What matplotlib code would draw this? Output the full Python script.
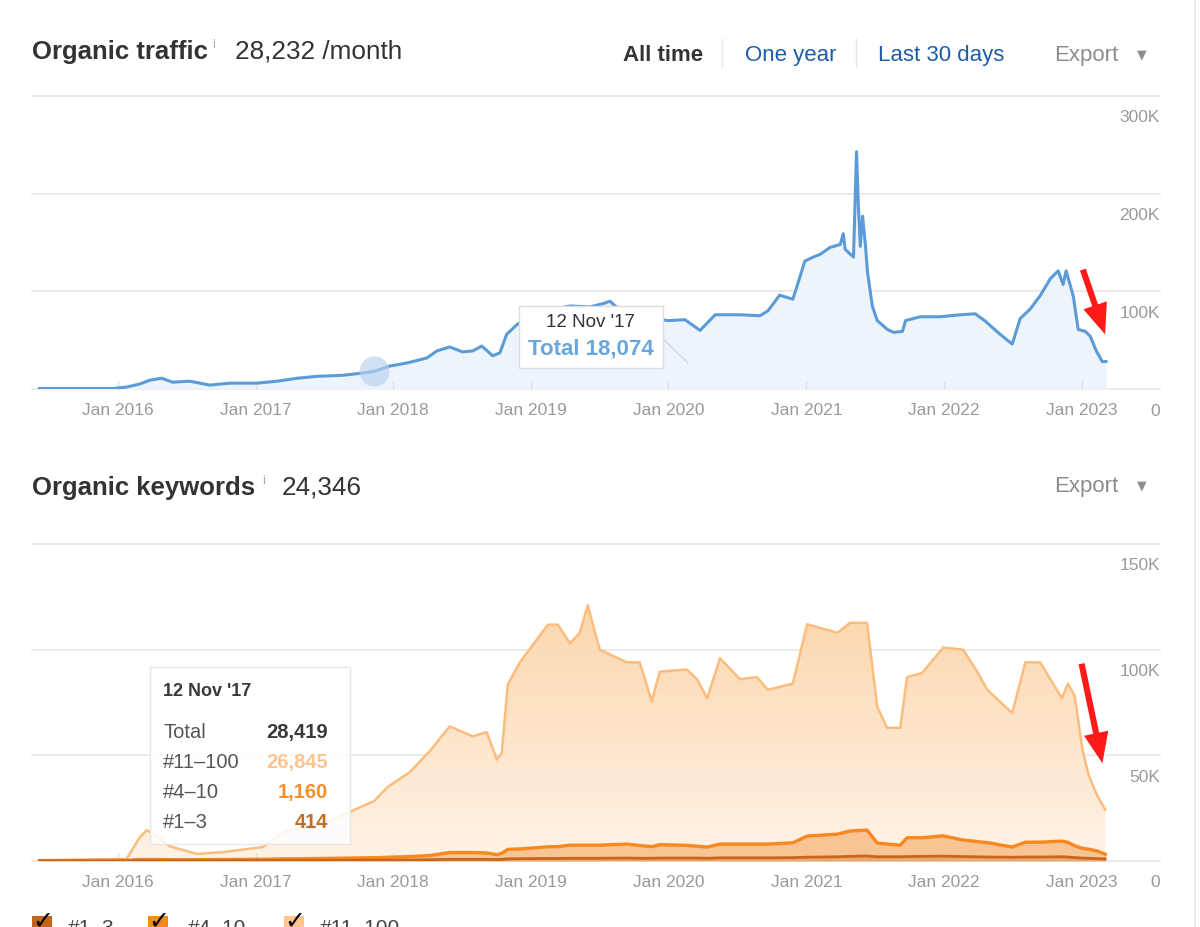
"""Ahrefs-style organic traffic / keywords overview, redrawn with matplotlib."""

import matplotlib

matplotlib.use("Agg")

import matplotlib.dates as mdates
import matplotlib.pyplot as plt
import numpy as np
import pandas as pd
from matplotlib.colors import LinearSegmentedColormap
from matplotlib.lines import Line2D
from matplotlib.patches import FancyArrowPatch, Rectangle

W, H = 1200, 928
plt.rcParams["font.family"] = ["Liberation Sans", "DejaVu Sans"]

# ---- data (values in thousands) -------------------------------------------
traffic_dates = [
    "2015-06-08", "2015-12-18", "2016-01-25", "2016-02-28", "2016-03-26", "2016-04-27",
    "2016-05-26", "2016-07-10", "2016-09-02", "2016-10-25", "2017-01-05", "2017-02-27",
    "2017-04-21", "2017-06-13", "2017-08-20", "2017-10-04", "2017-11-12", "2017-12-23",
    "2018-02-06", "2018-03-31", "2018-04-27", "2018-05-31", "2018-07-04", "2018-07-31",
    "2018-08-24", "2018-09-22", "2018-10-11", "2018-10-29", "2018-11-27", "2019-01-01",
    "2019-02-08", "2019-04-15", "2019-06-07", "2019-07-17", "2019-07-30", "2019-08-13",
    "2019-09-08", "2019-10-31", "2019-12-31", "2020-02-14", "2020-03-25", "2020-05-04",
    "2020-07-09", "2020-08-31", "2020-09-21", "2020-10-22", "2020-11-26", "2020-12-07",
    "2020-12-28", "2021-01-19", "2021-02-07", "2021-03-05", "2021-04-01", "2021-04-09",
    "2021-04-14", "2021-05-06", "2021-05-14", "2021-05-19", "2021-05-24", "2021-05-30",
    "2021-06-07", "2021-06-12", "2021-06-25", "2021-07-08", "2021-08-04", "2021-08-20",
    "2021-09-13", "2021-09-21", "2021-10-30", "2021-12-22", "2022-02-13", "2022-03-25",
    "2022-04-19", "2022-05-30", "2022-07-01", "2022-07-22", "2022-08-18", "2022-09-14",
    "2022-10-10", "2022-10-31", "2022-11-13", "2022-11-21", "2022-12-10", "2022-12-23",
    "2023-01-11", "2023-01-24", "2023-02-09", "2023-02-25", "2023-03-07",
]
traffic_k = [
    0.5, 0.5, 2, 5, 9, 11,
    7, 8, 4, 6, 6, 8,
    11, 13, 14, 16, 18.074, 23.5,
    26.6, 31.7, 39, 43, 38, 39,
    44, 34, 37, 56, 66.5, 74,
    80, 85, 84, 88, 90, 85,
    78, 74, 70, 71, 60, 76,
    76, 75, 80, 96, 92, 105,
    131, 135, 138, 145, 148, 159,
    143, 135, 243, 187, 146, 177,
    146, 120, 85, 70, 61, 58,
    59, 70, 74, 74, 76, 77,
    70, 56, 46, 72, 82, 96,
    113, 121, 107, 121, 95, 61,
    59, 54, 39, 28, 28.2,
]

kw_dates = [
    "2015-06-08", "2016-01-25", "2016-02-28", "2016-03-18", "2016-04-14", "2016-05-18",
    "2016-07-29", "2016-10-06", "2017-01-20", "2017-03-14", "2017-07-17", "2017-11-12",
    "2017-12-17", "2018-02-14", "2018-04-08", "2018-05-31", "2018-07-31", "2018-09-06",
    "2018-10-03", "2018-10-16", "2018-11-01", "2018-12-03", "2019-02-15", "2019-03-14",
    "2019-04-15", "2019-05-11", "2019-06-01", "2019-07-03", "2019-09-13", "2019-10-17",
    "2019-11-18", "2019-12-09", "2020-02-19", "2020-03-17", "2020-04-13", "2020-05-17",
    "2020-07-09", "2020-08-23", "2020-09-21", "2020-11-26", "2021-01-03", "2021-03-24",
    "2021-04-27", "2021-06-11", "2021-07-08", "2021-08-03", "2021-09-07", "2021-09-25",
    "2021-11-04", "2021-12-30", "2022-02-21", "2022-03-30", "2022-04-26", "2022-07-01",
    "2022-08-05", "2022-09-13", "2022-11-10", "2022-11-26", "2022-12-14", "2023-01-03",
    "2023-01-19", "2023-02-12", "2023-03-05",
]
kw_pos_1_3 = [
    0.05, 0.1, 0.2, 0.2, 0.2, 0.2,
    0.2, 0.2, 0.25, 0.3, 0.35, 0.414,
    0.45, 0.5, 0.6, 0.8, 0.8, 0.8,
    0.7, 0.8, 1.0, 1.1, 1.2, 1.2,
    1.3, 1.3, 1.3, 1.3, 1.4, 1.3,
    1.3, 1.4, 1.4, 1.4, 1.3, 1.5,
    1.5, 1.5, 1.5, 1.6, 1.8, 2.0,
    2.2, 2.4, 2.0, 2.0, 2.0, 2.1,
    2.2, 2.3, 2.1, 2.0, 1.9, 1.8,
    1.9, 1.9, 2.0, 1.9, 1.6, 1.4,
    1.3, 1.1, 1.0,
]
kw_pos_4_10 = [
    0.15, 0.2, 0.5, 0.5, 0.5, 0.4,
    0.4, 0.5, 0.6, 0.7, 0.9, 1.16,
    1.3, 1.6, 2.0, 3.2, 3.2, 3.0,
    2.3, 2.8, 4.5, 4.6, 5.5, 5.6,
    6.2, 6.2, 6.2, 6.2, 6.6, 6.0,
    5.5, 6.3, 6.0, 5.6, 5.3, 6.5,
    6.5, 6.5, 6.5, 7.0, 10.0, 10.7,
    12.0, 12.2, 6.5, 6.0, 5.5, 8.9,
    8.8, 9.6, 7.8, 7.2, 6.8, 4.8,
    7.0, 7.0, 7.4, 6.9, 5.6, 4.6,
    4.3, 3.6, 2.2,
]
kw_pos_11_100 = [
    0.1, 0.7, 10.3, 13.9, 11.1, 6.4,
    2.7, 3.5, 5.75, 12.7, 17.75, 26.845,
    33.25, 39.9, 49.4, 59.7, 55.0, 57.2,
    45.0, 47.4, 78.0, 88.3, 105.1, 105.0,
    95.5, 100.5, 113.5, 92.5, 86.0, 86.7,
    68.7, 81.9, 83.2, 79.0, 70.4, 88.0,
    78.0, 79.0, 73.0, 75.4, 100.2, 95.3,
    98.5, 98.1, 64.5, 55.0, 55.5, 76.0,
    78.0, 89.1, 90.1, 80.4, 72.3, 63.4,
    85.1, 85.1, 67.6, 75.2, 70.8, 47.0,
    35.4, 26.0, 21.1,
]

year_ticks = ["2016-01-01", "2017-01-01", "2018-01-01", "2019-01-01",
              "2020-01-01", "2021-01-01", "2022-01-01", "2023-01-01"]
year_labels = ["Jan 2016", "Jan 2017", "Jan 2018", "Jan 2019",
               "Jan 2020", "Jan 2021", "Jan 2022", "Jan 2023"]
traffic_yticks = [0, 100, 200, 300]
kw_yticks = [0, 50, 100, 150]

hover_date = "2017-11-12"
hover_traffic = 18.074
hover_rows = [("Total", "28,419", "#3a3a3a"), ("#11–100", "26,845", "#fcc48e"),
              ("#4–10", "1,160", "#f48f2c"), ("#1–3", "414", "#c26d25")]

GRID = "#e8e8e8"
LABEL = "#9a9a9a"
DARK = "#333333"


def px(x, y):
    """Pixel position in the screenshot -> figure fraction."""
    return x / W, 1 - y / H


def make_axes(fig, top, bottom, ymax, yticks):
    ax = fig.add_axes([32 / W, 1 - bottom / H, 1128 / W, (bottom - top) / H])
    ax.set_xlim(pd.Timestamp("2015-05-19"), pd.Timestamp("2023-07-28"))
    ax.set_ylim(0, ymax)
    for spine in ax.spines.values():
        spine.set_visible(False)
    ax.set_yticks([])
    for v in yticks:
        ax.axhline(v, color=GRID, lw=1.2, zorder=0.5, clip_on=False)
        ax.annotate("0" if v == 0 else f"{v}K", xy=(1, v), xycoords=("axes fraction", "data"),
                    xytext=(0, -21), textcoords="offset pixels", ha="right", va="center",
                    fontsize=12.5, color=LABEL)
    ax.set_xticks(pd.to_datetime(year_ticks))
    ax.set_xticklabels(year_labels)
    ax.tick_params(axis="x", direction="in", length=6, width=1, color="#dddddd",
                   labelsize=12.5, labelcolor=LABEL, pad=9.5)
    return ax


fig = plt.figure(figsize=(W / 100, H / 100), dpi=100)
fig.patch.set_facecolor("white")

# ---- organic traffic ------------------------------------------------------
t_dates = pd.to_datetime(traffic_dates)
ax1 = make_axes(fig, 97, 390, 300, traffic_yticks)
ax1.fill_between(t_dates, 0, traffic_k, color="#eef4fb", lw=0, zorder=1)
ax1.plot(t_dates, traffic_k, color="#5b9bd8", lw=2.2, zorder=3)
ax1.scatter([pd.Timestamp(hover_date)], [hover_traffic], s=470, color="#b7d2ef",
            alpha=0.65, lw=0, zorder=4)

# ---- organic keywords -----------------------------------------------------
k_dates = pd.to_datetime(kw_dates)
ax2 = make_axes(fig, 545, 862, 150, kw_yticks)
top3 = np.array(kw_pos_1_3)
top10 = top3 + np.array(kw_pos_4_10)
total = top10 + np.array(kw_pos_11_100)

outline = ax2.fill_between(k_dates, 0, total, facecolor="none", edgecolor="none")
cmap = LinearSegmentedColormap.from_list("kw", ["#fff3e7", "#fbd5ab"])
xl = mdates.date2num([pd.Timestamp("2015-05-19"), pd.Timestamp("2023-07-28")])
grad = ax2.imshow(np.linspace(0, 1, 256).reshape(-1, 1), extent=[xl[0], xl[1], 0, 125],
                  origin="lower", aspect="auto", cmap=cmap, zorder=1)
grad.set_clip_path(outline.get_paths()[0], transform=ax2.transData)
ax2.set_xlim(pd.Timestamp("2015-05-19"), pd.Timestamp("2023-07-28"))
ax2.set_ylim(0, 150)

ax2.fill_between(k_dates, top3, top10, color="#f9c494", lw=0, zorder=2)
ax2.fill_between(k_dates, 0, top3, color="#eba86c", lw=0, zorder=2)
ax2.plot(k_dates, total, color="#fbbd7d", lw=1.8, zorder=3)
ax2.plot(k_dates, top10, color="#f5881e", lw=2.4, zorder=3)
ax2.plot(k_dates, top3, color="#c8661e", lw=2.0, zorder=3)

# ---- headers ----------------------------------------------------------------
fig.text(*px(32, 59), "Organic traffic", fontsize=18.5, weight="bold", color=DARK, va="baseline")
fig.text(*px(212, 48), "i", fontsize=9, color="#aaaaaa", va="baseline")
fig.text(*px(235, 59), "28,232 /month", fontsize=18.8, color=DARK, va="baseline")
fig.text(*px(623, 61), "All time", fontsize=16, weight="bold", color=DARK, va="baseline")
fig.text(*px(745, 61), "One year", fontsize=16, color="#1f5ca8", va="baseline")
fig.text(*px(878, 61), "Last 30 days", fontsize=16, color="#1f5ca8", va="baseline")
fig.text(*px(1054, 61), "Export", fontsize=16, color="#8c8c8c", va="baseline")
fig.text(*px(1142, 55), "▼", fontsize=9, color="#8c8c8c", ha="center", va="center",
         family="DejaVu Sans")
for sx in (722, 856):
    fig.add_artist(Line2D([sx / W, sx / W], [1 - 40 / H, 1 - 68 / H], color="#e6e6e6", lw=1))

fig.text(*px(32, 495), "Organic keywords", fontsize=18.5, weight="bold", color=DARK, va="baseline")
fig.text(*px(262, 484), "i", fontsize=9, color="#aaaaaa", va="baseline")
fig.text(*px(282, 495), "24,346", fontsize=18.8, color=DARK, va="baseline")
fig.text(*px(1054, 492), "Export", fontsize=16, color="#8c8c8c", va="baseline")
fig.text(*px(1142, 486), "▼", fontsize=9, color="#8c8c8c", ha="center", va="center",
         family="DejaVu Sans")

# right border of the panel
fig.add_artist(Line2D([1195 / W, 1195 / W], [0, 1], color="#ececec", lw=1.5))

# ---- tooltips ---------------------------------------------------------------
fig.add_artist(Line2D([663 / W, 688 / W], [1 - 340 / H, 1 - 364 / H], color="#d8d8d8", lw=1))
fig.add_artist(Rectangle(px(519, 369), 144 / W, 62 / H, transform=fig.transFigure,
                         facecolor="white", edgecolor="#dcdcdc", lw=1, zorder=10))
fig.text(*px(591, 323), "12 Nov '17", fontsize=13.5, color=DARK, ha="center", va="center", zorder=11)
fig.text(*px(591, 349), f"Total {hover_traffic * 1000:,.0f}", fontsize=16, weight="bold",
         color="#6aa5dc", ha="center", va="center", zorder=11)

fig.add_artist(Rectangle(px(150, 845), 200 / W, 177 / H, transform=fig.transFigure,
                         facecolor="white", alpha=0.86, edgecolor="#e4e4e4", lw=1, zorder=10))
fig.text(*px(163, 692), "12 Nov '17", fontsize=13, weight="bold", color="#3a3a3a",
         va="center", zorder=11)
for i, (name, value, color) in enumerate(hover_rows):
    y = 733 + i * 29.7
    fig.text(*px(163, y), name, fontsize=14.5, color="#555555", va="center", zorder=11)
    fig.text(*px(328, y), value, fontsize=14.5, weight="bold", color=color,
             ha="right", va="center", zorder=11)

# ---- red annotation arrows -------------------------------------------------------
for (x0, y0), (x1, y1) in [((1082, 268), (1106, 338)), ((1081, 662), (1103, 767))]:
    fig.add_artist(FancyArrowPatch(px(x0, y0), px(x1, y1), transform=fig.transFigure,
                                   arrowstyle="simple,head_length=1.3,head_width=1.05,tail_width=0.26",
                                   mutation_scale=17, color="#ff1a1a", lw=0, zorder=12))

# ---- legend (cut by the bottom edge, as in the screenshot) -----------------------------
for bx, tx, color, label in [(32, 68, "#c3661d", "#1–3"), (148, 188, "#f28a20", "#4–10"),
                             (284, 320, "#fcc68c", "#11–100")]:
    fig.add_artist(Rectangle(px(bx, 937), 20 / W, 20 / H, transform=fig.transFigure,
                             facecolor=color, edgecolor="none"))
    fig.text(*px(bx + 11, 922), "✓", fontsize=18, color="black", ha="center", va="center",
             family="DejaVu Sans")
    fig.text(*px(tx, 934), label, fontsize=15, color="#444444", va="baseline")

fig.savefig("out.png", dpi=100, facecolor="white")
